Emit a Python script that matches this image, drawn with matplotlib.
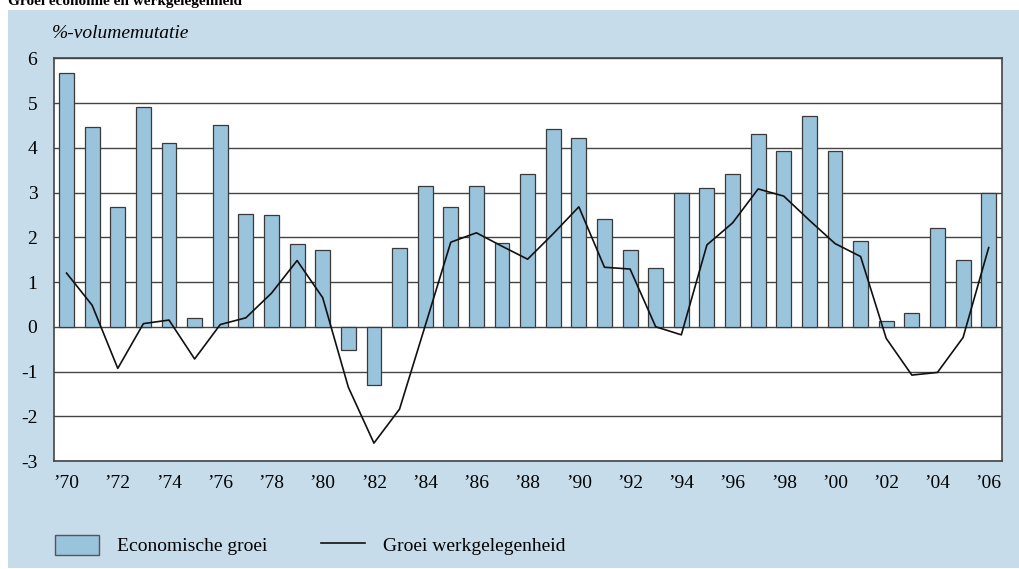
import matplotlib
matplotlib.use("Agg")
import matplotlib.pyplot as plt
from matplotlib.patches import Rectangle, Patch
from matplotlib.lines import Line2D
import numpy as np

years = list(range(1970, 2007))
economische_groei = [5.68, 4.46, 2.68, 4.92, 4.10, 0.19, 4.51, 2.51, 2.50, 1.86,
                     1.71, -0.53, -1.30, 1.77, 3.14, 2.68, 3.14, 1.87, 3.42, 4.41,
                     4.21, 2.41, 1.72, 1.31, 3.00, 3.11, 3.42, 4.31, 3.92, 4.71,
                     3.92, 1.92, 0.12, 0.31, 2.21, 1.50, 3.00]
groei_werkgelegenheid = [1.20, 0.48, -0.93, 0.07, 0.15, -0.72, 0.05, 0.20, 0.75, 1.48,
                         0.65, -1.35, -2.60, -1.84, 0.02, 1.89, 2.10, 1.80, 1.51, 2.08,
                         2.68, 1.33, 1.29, 0.00, -0.18, 1.83, 2.32, 3.08, 2.92, 2.38,
                         1.86, 1.57, -0.26, -1.08, -1.02, -0.24, 1.77]
yticks = [-3, -2, -1, 0, 1, 2, 3, 4, 5, 6]
xtick_labels = ["\u2019%02d" % (y % 100) for y in years[::2]]

W, H = 1019, 569
fig = plt.figure(figsize=(W / 100, H / 100), dpi=100)
fig.patch.set_facecolor("white")
bg = "#c6dcea"
fig.patches.append(Rectangle((8 / W, 1 / H), (W - 8) / W, (H - 11) / H,
                             transform=fig.transFigure, facecolor=bg,
                             edgecolor="none", zorder=-5))

serif = ["Liberation Serif", "DejaVu Serif"]
fs = 14

fig.text(8 / W, 1 - 5 / H, "Groei economie en werkgelegenheid", family=serif,
         fontsize=11, fontweight="bold", va="baseline", ha="left")

left, right, top, bottom = 54, 1001.5, 58.3, 461
ax = fig.add_axes([left / W, 1 - bottom / H, (right - left) / W, (bottom - top) / H])
ax.set_facecolor("white")

x = np.arange(len(years))
ax.bar(x, economische_groei, width=0.58, color="#9ac3dc", edgecolor="#3a3a3a",
       linewidth=0.9, zorder=3)
ax.plot(x, groei_werkgelegenheid, color="#111111", linewidth=1.2, zorder=4)

ax.set_xlim(-0.49, 36.5)
ax.set_ylim(-3, 6)
ax.set_yticks(yticks)
ax.set_yticklabels([str(v) for v in yticks], family=serif, fontsize=fs)
ax.set_xticks(x[::2])
ax.set_xticklabels(xtick_labels, family=serif, fontsize=fs)
ax.tick_params(axis="both", length=0)
ax.tick_params(axis="y", pad=12)
ax.tick_params(axis="x", pad=10)
ax.yaxis.grid(True, color="#444444", linewidth=1.0, zorder=1)
ax.set_axisbelow(True)
for s in ax.spines.values():
    s.set_color("#444444")
    s.set_linewidth(1.2)

fig.text(52 / W, 1 - 33 / H, "%-volumemutatie", family=serif, style="italic",
         fontsize=fs, va="center", ha="left")

handles = [Patch(facecolor="#9ac3dc", edgecolor="#555555", linewidth=1.0,
                 label="Economische groei"),
           Line2D([], [], color="#111111", linewidth=1.2, label="Groei werkgelegenheid")]
leg = fig.legend(handles=handles, loc="center left",
                 bbox_to_anchor=(37 / W, 1 - 545 / H), ncol=2, frameon=False,
                 prop={"family": serif, "size": fs}, handlelength=2.3,
                 handleheight=1.25, handletextpad=0.9, columnspacing=2.75)

fig.savefig("out.png", dpi=100, facecolor=fig.get_facecolor())
